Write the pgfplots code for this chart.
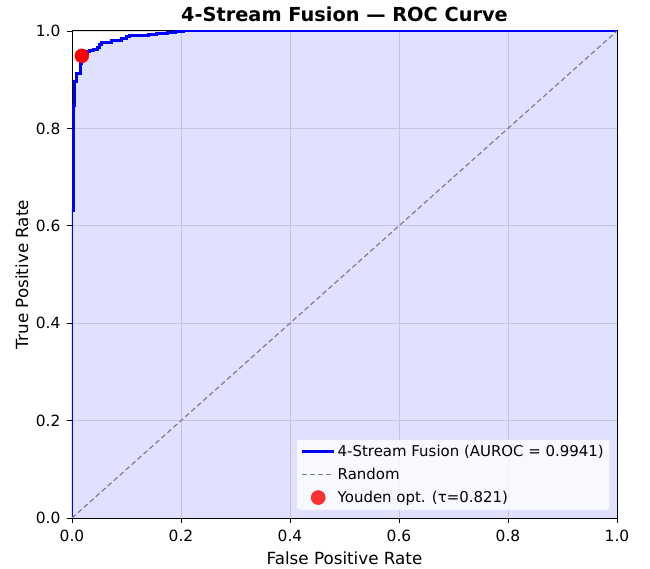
\documentclass[border=0pt]{standalone}
\usepackage{pgfplots}
\pgfplotsset{compat=1.18}
\usepackage{fontspec}
\setmainfont{DejaVu Sans}
\pgfplotsset{
  longline legend/.style={legend image code/.code={\draw[##1] (0bp,0bp) -- (32bp,0bp);}},
  dot legend/.style={legend image code/.code={\fill[red] (16bp,0bp) circle (7bp);}},
}
\begin{document}
\begin{tikzpicture}
\begin{axis}[
  name=ax,
  scale only axis,
  width=545bp, height=487bp,
  xmin=0, xmax=1, ymin=0, ymax=1,
  xtick={0,0.2,0.4,0.6,0.8,1.0},
  ytick={0,0.2,0.4,0.6,0.8,1.0},
  xticklabels={0.0,0.2,0.4,0.6,0.8,1.0},
  yticklabels={0.0,0.2,0.4,0.6,0.8,1.0},
  tick label style={font=\fontsize{15.5}{17}\selectfont},
  xticklabel style={yshift=-4bp},
  yticklabel style={xshift=-3bp},
  /pgf/number format/assume math mode=true,
  tick align=outside,
  tick style={black, line width=0.8pt},
  major tick length=5bp,
  xtick pos=bottom, ytick pos=left,
  grid=major,
  grid style={gray!25, line width=0.6pt},
  axis line style={black, line width=1pt},
  xlabel={False Positive Rate},
  ylabel={True Positive Rate},
  xlabel style={font=\fontsize{16.8}{19}\selectfont, at={(axis description cs:0.5,-0.0965)}, anchor=base, inner sep=0pt},
  ylabel style={font=\fontsize{16.8}{19}\selectfont, at={(axis description cs:-0.0807,0.5)}, anchor=base, inner sep=0pt},
  title={\textbf{4-Stream Fusion — ROC Curve}},
  title style={font=\fontsize{19.4}{22}\selectfont, at={(axis description cs:0.5,1.0082)}, anchor=base, inner sep=0pt},
  legend style={font=\fontsize{15}{18}\selectfont, fill=white, fill opacity=0.8, text opacity=1, draw=gray!30, rounded corners=2bp, at={(0.987,0.016)}, anchor=south east, row sep=6bp, inner sep=4bp},
  legend cell align=left,
]
\addplot[draw=none, fill=blue, fill opacity=0.12, forget plot] coordinates {
(0,0) (0,0.632) (0.0025,0.632) (0.0025,0.848) (0.0055,0.848) (0.0055,0.896) (0.0086,0.896) (0.0086,0.913) (0.0147,0.913) (0.0147,0.934) (0.018,0.934) (0.018,0.949) (0.022,0.949) (0.022,0.953) (0.028,0.953) (0.028,0.957) (0.033,0.957) (0.033,0.960) (0.039,0.960) (0.039,0.963) (0.046,0.963) (0.046,0.967) (0.050,0.967) (0.050,0.972) (0.054,0.972) (0.054,0.976) (0.073,0.976) (0.073,0.980) (0.091,0.980) (0.091,0.984) (0.100,0.984) (0.100,0.988) (0.106,0.988) (0.106,0.990) (0.140,0.990) (0.140,0.992) (0.155,0.992) (0.155,0.995) (0.175,0.995) (0.175,0.997) (0.190,0.997) (0.190,0.998) (0.204,0.998) (0.204,1.0) (1,1) (1,0)
} \closedcycle;
\addplot[blue, line width=3bp, line join=miter, longline legend] coordinates {
(0,0) (0,0.632) (0.0025,0.632) (0.0025,0.848) (0.0055,0.848) (0.0055,0.896) (0.0086,0.896) (0.0086,0.913) (0.0147,0.913) (0.0147,0.934) (0.018,0.934) (0.018,0.949) (0.022,0.949) (0.022,0.953) (0.028,0.953) (0.028,0.957) (0.033,0.957) (0.033,0.960) (0.039,0.960) (0.039,0.963) (0.046,0.963) (0.046,0.967) (0.050,0.967) (0.050,0.972) (0.054,0.972) (0.054,0.976) (0.073,0.976) (0.073,0.980) (0.091,0.980) (0.091,0.984) (0.100,0.984) (0.100,0.988) (0.106,0.988) (0.106,0.990) (0.140,0.990) (0.140,0.992) (0.155,0.992) (0.155,0.995) (0.175,0.995) (0.175,0.997) (0.190,0.997) (0.190,0.998) (0.204,0.998) (0.204,1.0) (1,1)
};
\addlegendentry{4-Stream Fusion (AUROC = 0.9941)}
\addplot[color={rgb,255:red,125;green,125;blue,145}, line width=1.2bp, dash pattern=on 5bp off 3bp, longline legend] coordinates {(0,0) (1,1)};
\addlegendentry{Random}
\addplot[only marks, mark=*, mark size=7bp, color=red, mark options={fill=red, draw=red}, dot legend] coordinates {(0.018,0.949)};
\addlegendentry{Youden opt. (τ=0.821)}
\end{axis}
\path (ax.south west) ++(-72bp,-51bp);
\path (ax.north east) ++(33bp,31bp);
\end{tikzpicture}
\end{document}
